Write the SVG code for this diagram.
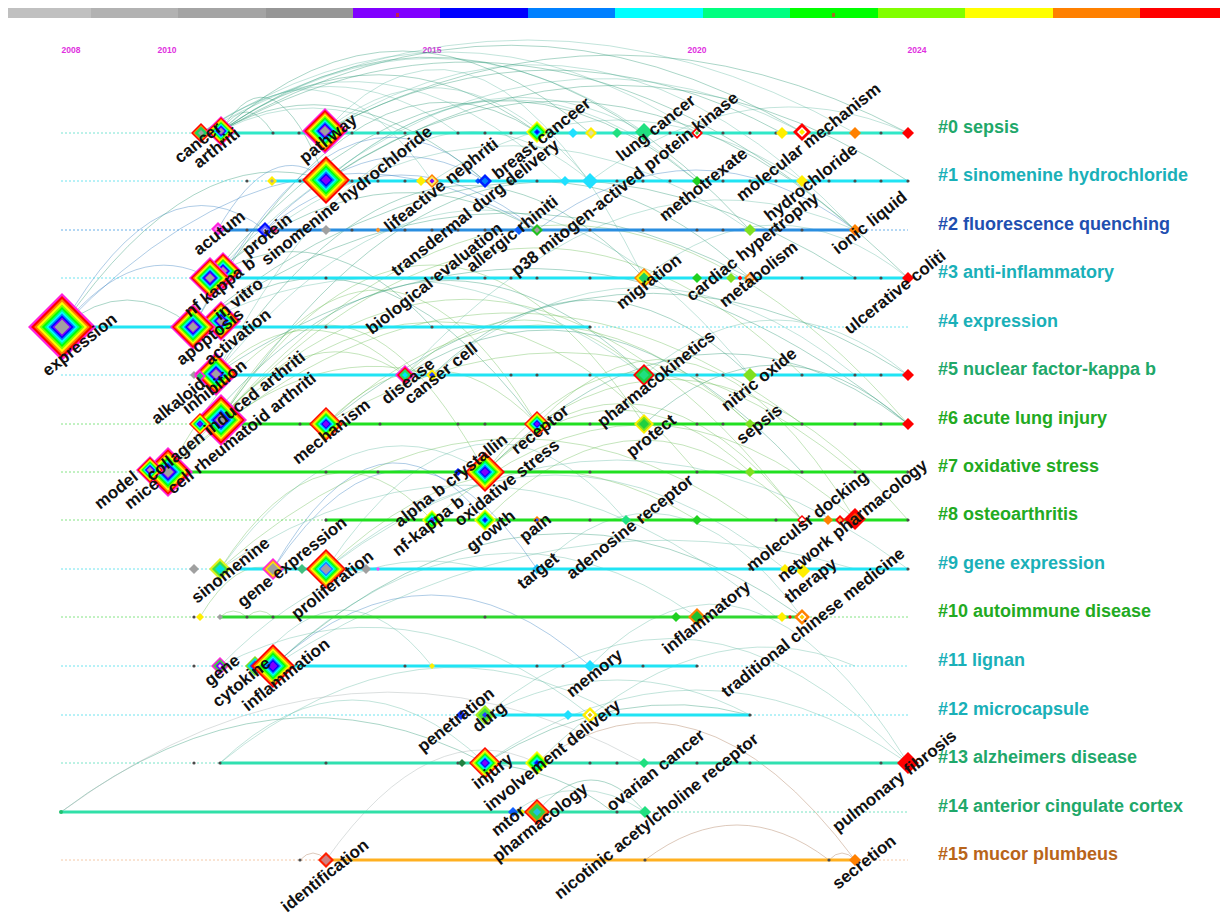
<svg xmlns="http://www.w3.org/2000/svg" width="1227" height="919" viewBox="0 0 1227 919">
<defs>
<style>
.lb{font-family:"Liberation Sans",Arial,sans-serif;font-weight:bold;font-size:17px;fill:#111}
.cl{font-family:"Liberation Sans",Arial,sans-serif;font-weight:bold;font-size:18px}
.yr{font-family:"Liberation Sans",Arial,sans-serif;font-weight:bold;font-size:8.5px;fill:#e030e0;text-anchor:middle}
.dash{stroke-width:1;stroke-dasharray:2 2;fill:none;opacity:.7}
.sol{stroke-width:3;fill:none}
.dot circle{fill:#4a4a4a}
#connectors path{fill:none;stroke-width:.9}
.a1{stroke:#2e9a78;opacity:.45}
.a2{stroke:#5cb8a0;opacity:.42}
.a3{stroke:#3a80c0;opacity:.45}
.a4{stroke:#6cbf5a;opacity:.45}
.a5{stroke:#c09a80;opacity:.6}
.a6{stroke:#b0b8b8;opacity:.5}
</style>
<polygon id="u" points="0,-1 1,0 0,1 -1,0"/>
<g id="rbM">
<use href="#u" fill="#ff22dd"/>
<use href="#u" transform="scale(.91)" fill="#ff0000"/>
<use href="#u" transform="scale(.82)" fill="#ff8000"/>
<use href="#u" transform="scale(.74)" fill="#ffff00"/>
<use href="#u" transform="scale(.66)" fill="#80ff00"/>
<use href="#u" transform="scale(.59)" fill="#00ff00"/>
<use href="#u" transform="scale(.52)" fill="#00ff80"/>
<use href="#u" transform="scale(.46)" fill="#00ffff"/>
<use href="#u" transform="scale(.40)" fill="#0080ff"/>
<use href="#u" transform="scale(.34)" fill="#0000ff"/>
<use href="#u" transform="scale(.28)" fill="#8000ff"/>
<use href="#u" transform="scale(.22)" fill="#a0a0a0"/>
</g>
<g id="rbR">
<use href="#u" fill="#ff0000"/>
<use href="#u" transform="scale(.89)" fill="#ff8000"/>
<use href="#u" transform="scale(.79)" fill="#ffff00"/>
<use href="#u" transform="scale(.69)" fill="#80ff00"/>
<use href="#u" transform="scale(.60)" fill="#00ff00"/>
<use href="#u" transform="scale(.52)" fill="#00ff80"/>
<use href="#u" transform="scale(.44)" fill="#00ffff"/>
<use href="#u" transform="scale(.36)" fill="#0080ff"/>
<use href="#u" transform="scale(.28)" fill="#0000ff"/>
<use href="#u" transform="scale(.20)" fill="#8000ff"/>
</g>
<g id="rbRG">
<use href="#u" fill="#ff0000"/>
<use href="#u" transform="scale(.89)" fill="#ff8000"/>
<use href="#u" transform="scale(.79)" fill="#ffff00"/>
<use href="#u" transform="scale(.69)" fill="#80ff00"/>
<use href="#u" transform="scale(.60)" fill="#00ff00"/>
<use href="#u" transform="scale(.52)" fill="#00ff80"/>
<use href="#u" transform="scale(.44)" fill="#00ffff"/>
<use href="#u" transform="scale(.36)" fill="#0080ff"/>
<use href="#u" transform="scale(.29)" fill="#8080ff"/>
<use href="#u" transform="scale(.24)" fill="#a0a0a0"/>
</g>
<g id="rbY">
<use href="#u" fill="#ffff00"/>
<use href="#u" transform="scale(.84)" fill="#80ff00"/>
<use href="#u" transform="scale(.70)" fill="#00ff00"/>
<use href="#u" transform="scale(.56)" fill="#00ff80"/>
<use href="#u" transform="scale(.44)" fill="#00ffff"/>
<use href="#u" transform="scale(.32)" fill="#0080ff"/>
<use href="#u" transform="scale(.20)" fill="#0000ff"/>
</g>
</defs>
<rect width="1227" height="919" fill="#ffffff"/>

<g id="timebar">
<rect x="8" y="8" width="83" height="10" fill="#c0c0c0"/>
<rect x="91" y="8" width="87" height="10" fill="#b2b2b2"/>
<rect x="178" y="8" width="88" height="10" fill="#a4a4a4"/>
<rect x="266" y="8" width="87" height="10" fill="#969696"/>
<rect x="353" y="8" width="87" height="10" fill="#8000ff"/>
<rect x="440" y="8" width="88" height="10" fill="#0000ff"/>
<rect x="528" y="8" width="87" height="10" fill="#0080ff"/>
<rect x="615" y="8" width="88" height="10" fill="#00ffff"/>
<rect x="703" y="8" width="87" height="10" fill="#00ff80"/>
<rect x="790" y="8" width="88" height="10" fill="#00ff00"/>
<rect x="878" y="8" width="87" height="10" fill="#80ff00"/>
<rect x="965" y="8" width="88" height="10" fill="#ffff00"/>
<rect x="1053" y="8" width="87" height="10" fill="#ff8000"/>
<rect x="1140" y="8" width="80" height="10" fill="#ff0000"/>
<rect x="396" y="13" width="3" height="4" fill="#c02050"/>
<rect x="832" y="13" width="3" height="4" fill="#a07020"/>
</g>

<g id="years">
<text class="yr" x="71" y="53">2008</text>
<text class="yr" x="167" y="53">2010</text>
<text class="yr" x="432" y="53">2015</text>
<text class="yr" x="697" y="53">2020</text>
<text class="yr" x="917" y="53">2024</text>
</g>

<g id="connectors">
<path class="a1" d="M221 131Q511 -41 802 132"/>
<path class="a2" d="M221 131Q432 -15 644 132"/>
<path class="a1" d="M221 131Q379 18 537 132"/>
<path class="a2" d="M221 131Q326 28 432 181"/>
<path class="a1" d="M221 131Q485 -56 750 230"/>
<path class="a2" d="M201 133Q449 -29 697 133"/>
<path class="a2" d="M201 133Q528 -53 855 133"/>
<path class="a1" d="M325 131Q616 -22 908 133"/>
<path class="a2" d="M325 131Q484 -44 644 278"/>
<path class="a1" d="M325 131Q553 8 782 133"/>
<path class="a2" d="M325 131Q457 24 590 181"/>
<path class="a1" d="M221 131Q273 44 326 181"/>
<path class="a1" d="M221 131Q247 92 273 133"/>
<path class="a2" d="M221 131Q313 84 405 133"/>
<path class="a2" d="M326 180Q485 44 644 132"/>
<path class="a1" d="M326 180Q617 -10 908 181"/>
<path class="a2" d="M326 180Q511 19 697 181"/>
<path class="a1" d="M210 278Q453 -19 697 181"/>
<path class="a2" d="M210 278Q506 -25 802 132"/>
<path class="a1" d="M193 327Q365 20 537 132"/>
<path class="a3" d="M62 327Q163 151 265 230"/>
<path class="a1" d="M62 327Q194 136 326 180"/>
<path class="a3" d="M193 327Q339 46 485 181"/>
<path class="a2" d="M215 375Q402 22 590 181"/>
<path class="a1" d="M215 375Q429 53 644 278"/>
<path class="a2" d="M215 375Q482 45 750 375"/>
<path class="a4" d="M220 420Q564 28 908 424"/>
<path class="a4" d="M220 420Q378 158 537 424"/>
<path class="a1" d="M220 420Q485 31 750 278"/>
<path class="a4" d="M220 420Q432 108 644 424"/>
<path class="a4" d="M168 472Q326 178 485 472"/>
<path class="a1" d="M168 472Q406 146 644 375"/>
<path class="a4" d="M168 472Q485 104 802 520"/>
<path class="a4" d="M326 424Q538 226 750 424"/>
<path class="a1" d="M326 424Q617 190 908 375"/>
<path class="a2" d="M405 375Q630 127 855 230"/>
<path class="a1" d="M432 375Q591 225 750 375"/>
<path class="a4" d="M485 472Q643 314 802 520"/>
<path class="a1" d="M485 472Q696 262 908 424"/>
<path class="a4" d="M537 424Q696 258 855 519"/>
<path class="a1" d="M644 424Q776 306 908 424"/>
<path class="a4" d="M432 520Q643 330 855 519"/>
<path class="a4" d="M485 520Q643 360 802 520"/>
<path class="a2" d="M326 569Q476 345 626 520"/>
<path class="a3" d="M273 569Q379 385 485 520"/>
<path class="a4" d="M220 569Q326 405 432 520"/>
<path class="a2" d="M220 569Q352 389 485 472"/>
<path class="a2" d="M326 569Q555 381 785 569"/>
<path class="a2" d="M537 569Q669 437 802 617"/>
<path class="a2" d="M273 666Q485 468 697 617"/>
<path class="a3" d="M273 666Q431 524 590 666"/>
<path class="a2" d="M255 666Q343 554 432 666"/>
<path class="a1" d="M273 666Q537 428 802 617"/>
<path class="a2" d="M220 666Q352 532 485 569"/>
<path class="a1" d="M61 812Q273 652 485 763"/>
<path class="a2" d="M220 763Q352 637 485 763"/>
<path class="a2" d="M485 763Q696 617 908 763"/>
<path class="a2" d="M485 715Q617 645 750 715"/>
<path class="a5" d="M645 860Q737 790 829 860"/>
<path class="a5" d="M300 860Q313 846 326 860"/>
<path class="a5" d="M829 860Q842 846 855 860"/>
<path class="a6" d="M326 860Q431 712 537 763"/>
<path class="a2" d="M513 812Q579 768 645 812"/>
<path class="a1" d="M485 763Q560 770 613 812"/>
<path class="a4" d="M200 617Q236 557 273 569"/>
<path class="a4" d="M220 617Q233 605 247 617"/>
<path class="a4" d="M247 617Q260 605 273 617"/>
<path class="a1" d="M210 278Q321 207 432 327"/>
<path class="a1" d="M193 327Q365 194 537 424"/>
<path class="a2" d="M193 327Q418 209 644 375"/>
<path class="a3" d="M62 327Q136 237 210 278"/>
<path class="a1" d="M62 327Q127 273 193 327"/>
<path class="a4" d="M220 420Q312 312 405 375"/>
<path class="a4" d="M215 375Q310 285 405 375"/>
<path class="a4" d="M168 472Q300 336 432 375"/>
<path class="a4" d="M485 472Q617 348 750 472"/>
<path class="a2" d="M644 375Q776 265 908 375"/>
<path class="a2" d="M644 278Q776 172 908 278"/>
<path class="a3" d="M537 230Q696 110 855 230"/>
<path class="a2" d="M590 181Q749 63 908 133"/>
<path class="a2" d="M432 181Q617 59 802 181"/>
<path class="a3" d="M265 230Q401 120 537 230"/>
<path class="a3" d="M265 230Q375 114 485 181"/>
<path class="a3" d="M218 229Q272 135 326 180"/>
<path class="a2" d="M326 569Q617 351 908 569"/>
<path class="a5" d="M537 763Q696 648 855 860"/>
<path class="a2" d="M590 666Q749 505 908 763"/>
<path class="a2" d="M485 715Q696 541 908 763"/>
<path class="a3" d="M273 569Q405 371 537 569"/>
<path class="a4" d="M220 569Q485 335 750 520"/>
<path class="a1" d="M537 812Q591 748 645 812"/>
<path class="a2" d="M220 666Q405 569 590 715"/>
<path class="a4" d="M326 424Q431 316 537 424"/>
<path class="a4" d="M405 375Q524 265 644 375"/>
<path class="a1" d="M210 278Q373 136 537 230"/>
<path class="a1" d="M193 327Q471 127 750 278"/>
<path class="a1" d="M221 131Q400 -30 590 133"/>
<path class="a2" d="M201 133Q380 10 563 181"/>
<path class="a2" d="M325 131Q600 -40 855 230"/>
<path class="a1" d="M221 131Q560 -60 908 278"/>
<path class="a1" d="M326 180Q590 0 855 230"/>
<path class="a2" d="M210 278Q480 40 750 230"/>
<path class="a1" d="M193 327Q520 60 855 278"/>
<path class="a3" d="M62 327Q300 80 537 230"/>
<path class="a4" d="M220 420Q520 100 802 375"/>
<path class="a1" d="M215 375Q560 140 908 424"/>
<path class="a4" d="M168 472Q480 180 802 424"/>
<path class="a4" d="M220 420Q470 200 697 472"/>
<path class="a4" d="M326 424Q600 260 855 472"/>
<path class="a2" d="M432 375Q640 200 855 375"/>
<path class="a4" d="M537 424Q720 300 908 520"/>
<path class="a1" d="M405 375Q600 250 802 472"/>
<path class="a4" d="M485 472Q620 300 750 424"/>
<path class="a4" d="M326 569Q500 400 697 520"/>
<path class="a2" d="M220 569Q500 380 776 617"/>
<path class="a2" d="M273 666Q560 480 855 569"/>
<path class="a2" d="M220 763Q420 600 617 715"/>
<path class="a6" d="M61 812Q350 600 644 763"/>
<path class="a2" d="M537 763Q700 600 855 666"/>
<path class="a1" d="M485 763Q620 680 750 715"/>
<path class="a1" d="M221 131Q340 60 485 181"/>
<path class="a2" d="M201 133Q330 40 458 133"/>
</g>

<g id="rows">
<path class="dash" stroke="#40d8c0" d="M61 133H203"/><path class="sol" stroke="#30e8c8" d="M203 133H908"/>
<path class="dash" stroke="#30d8e8" d="M61 181H272"/><path class="sol" stroke="#20e4f4" d="M272 181H908"/>
<path class="dash" stroke="#2a8ee0" d="M61 230H218M855 230H908"/><path class="sol" stroke="#2a8ee0" d="M218 230H855"/>
<path class="dash" stroke="#30d8e8" d="M61 278H192"/><path class="sol" stroke="#20e4f4" d="M192 278H908"/>
<path class="dash" stroke="#30d8e8" d="M590 327H908"/><path class="sol" stroke="#20e4f4" d="M62 327H590"/>
<path class="dash" stroke="#30d8e8" d="M61 375H215"/><path class="sol" stroke="#20e4f4" d="M215 375H908"/>
<path class="dash" stroke="#50d850" d="M61 424H200"/><path class="sol" stroke="#20e020" d="M200 424H908"/>
<path class="dash" stroke="#50d850" d="M61 472H165"/><path class="sol" stroke="#20e020" d="M165 472H908"/>
<path class="dash" stroke="#50d850" d="M61 520H325"/><path class="sol" stroke="#20e020" d="M325 520H908"/>
<path class="dash" stroke="#30d8e8" d="M61 569H240"/><path class="sol" stroke="#20e4f4" d="M240 569H908"/>
<path class="dash" stroke="#50d850" d="M61 617H220M802 617H908"/><path class="sol" stroke="#30d830" d="M220 617H802"/>
<path class="dash" stroke="#30d8e8" d="M61 666H273M697 666H908"/><path class="sol" stroke="#20e4f4" d="M273 666H697"/>
<path class="dash" stroke="#30d8e8" d="M61 715H485M750 715H908"/><path class="sol" stroke="#20e4f4" d="M485 715H750"/>
<path class="dash" stroke="#40d8b0" d="M61 763H220"/><path class="sol" stroke="#30e0b0" d="M220 763H908"/>
<path class="dash" stroke="#40d8a8" d="M645 812H908"/><path class="sol" stroke="#30e0a8" d="M61 812H645"/>
<path class="dash" stroke="#f0b080" d="M61 860H326M855 860H908"/><path class="sol" stroke="#ffb020" d="M326 860H855"/>
</g>

<g id="dots" class="dot">
<circle cx="273" cy="133" r="1.6"/><circle cx="299" cy="133" r="1.6"/><circle cx="352" cy="133" r="1.6"/><circle cx="378" cy="133" r="1.6"/><circle cx="405" cy="133" r="1.6"/><circle cx="458" cy="133" r="1.6"/><circle cx="485" cy="133" r="1.6"/><circle cx="511" cy="133" r="1.6"/><circle cx="670" cy="133" r="1.6"/><circle cx="723" cy="133" r="1.6"/><circle cx="750" cy="133" r="1.6"/><circle cx="776" cy="133" r="1.6"/><circle cx="829" cy="133" r="1.6"/><circle cx="881" cy="133" r="1.6"/>
<circle cx="247" cy="181" r="1.6"/><circle cx="300" cy="181" r="1.6"/><circle cx="352" cy="181" r="1.6"/><circle cx="378" cy="181" r="1.6"/><circle cx="405" cy="181" r="1.6"/><circle cx="458" cy="181" r="1.6"/><circle cx="511" cy="181" r="1.6"/><circle cx="537" cy="181" r="1.6"/><circle cx="617" cy="181" r="1.6"/><circle cx="643" cy="181" r="1.6"/><circle cx="670" cy="181" r="1.6"/><circle cx="723" cy="181" r="1.6"/><circle cx="750" cy="181" r="1.6"/><circle cx="776" cy="181" r="1.6"/><circle cx="829" cy="181" r="1.6"/><circle cx="855" cy="181" r="1.6"/><circle cx="881" cy="181" r="1.6"/><circle cx="908" cy="181" r="1.6"/>
<circle cx="247" cy="230" r="1.6"/><circle cx="300" cy="230" r="1.6"/><circle cx="352" cy="230" r="1.6"/><circle cx="405" cy="230" r="1.6"/><circle cx="432" cy="230" r="1.6"/><circle cx="458" cy="230" r="1.6"/><circle cx="485" cy="230" r="1.6"/><circle cx="563" cy="230" r="1.6"/><circle cx="590" cy="230" r="1.6"/><circle cx="643" cy="230" r="1.6"/><circle cx="697" cy="230" r="1.6"/><circle cx="723" cy="230" r="1.6"/><circle cx="776" cy="230" r="1.6"/><circle cx="802" cy="230" r="1.6"/>
<circle cx="326" cy="278" r="1.6"/><circle cx="432" cy="278" r="1.6"/><circle cx="458" cy="278" r="1.6"/><circle cx="485" cy="278" r="1.6"/><circle cx="511" cy="278" r="1.6"/><circle cx="537" cy="278" r="1.6"/><circle cx="590" cy="278" r="1.6"/><circle cx="802" cy="278" r="1.6"/><circle cx="855" cy="278" r="1.6"/><circle cx="881" cy="278" r="1.6"/>
<circle cx="326" cy="327" r="1.6"/><circle cx="432" cy="327" r="1.6"/><circle cx="590" cy="327" r="1.6"/>
<circle cx="511" cy="375" r="1.6"/><circle cx="537" cy="375" r="1.6"/><circle cx="590" cy="375" r="1.6"/><circle cx="697" cy="375" r="1.6"/><circle cx="723" cy="375" r="1.6"/><circle cx="802" cy="375" r="1.6"/><circle cx="855" cy="375" r="1.6"/><circle cx="881" cy="375" r="1.6"/>
<circle cx="300" cy="424" r="1.6"/><circle cx="380" cy="424" r="1.6"/><circle cx="458" cy="424" r="1.6"/><circle cx="485" cy="424" r="1.6"/><circle cx="590" cy="424" r="1.6"/><circle cx="697" cy="424" r="1.6"/><circle cx="723" cy="424" r="1.6"/><circle cx="802" cy="424" r="1.6"/><circle cx="855" cy="424" r="1.6"/><circle cx="881" cy="424" r="1.6"/>
<circle cx="326" cy="472" r="1.6"/><circle cx="378" cy="472" r="1.6"/><circle cx="590" cy="472" r="1.6"/><circle cx="697" cy="472" r="1.6"/><circle cx="802" cy="472" r="1.6"/><circle cx="855" cy="472" r="1.6"/><circle cx="908" cy="472" r="1.6"/>
<circle cx="326" cy="520" r="1.6"/><circle cx="590" cy="520" r="1.6"/><circle cx="776" cy="520" r="1.6"/><circle cx="908" cy="520" r="1.6"/>
<circle cx="750" cy="569" r="1.6"/><circle cx="908" cy="569" r="1.6"/>
<circle cx="194" cy="617" r="1.6"/><circle cx="247" cy="617" r="1.6"/><circle cx="273" cy="617" r="1.6"/><circle cx="485" cy="617" r="1.6"/><circle cx="802" cy="617" r="1.6"/>
<circle cx="194" cy="666" r="1.6"/><circle cx="405" cy="666" r="1.6"/><circle cx="537" cy="666" r="1.6"/><circle cx="563" cy="666" r="1.6"/><circle cx="643" cy="666" r="1.6"/><circle cx="697" cy="666" r="1.6"/>
<circle cx="750" cy="715" r="1.6"/>
<circle cx="194" cy="763" r="1.6"/><circle cx="220" cy="763" r="1.6"/><circle cx="326" cy="763" r="1.6"/><circle cx="458" cy="763" r="1.6"/><circle cx="590" cy="763" r="1.6"/><circle cx="617" cy="763" r="1.6"/><circle cx="697" cy="763" r="1.6"/><circle cx="750" cy="763" r="1.6"/><circle cx="881" cy="763" r="1.6"/>
<circle cx="617" cy="812" r="1.6"/>
<circle cx="300" cy="860" r="1.6"/><circle cx="645" cy="860" r="1.6"/><circle cx="829" cy="860" r="1.6"/>
</g>

<g id="minor-nodes">
<use href="#u" transform="translate(573 133) scale(5)" fill="#20e0ff"/>
<use href="#u" transform="translate(591 133) scale(6)" fill="#ffee00"/><use href="#u" transform="translate(591 133) scale(3)" fill="#e0e0a0"/>
<use href="#u" transform="translate(617 133) scale(5)" fill="#20e080"/>
<use href="#u" transform="translate(782 133) scale(6)" fill="#ffee00"/>
<use href="#u" transform="translate(855 133) scale(6)" fill="#ff8000"/>
<use href="#u" transform="translate(908 133) scale(6)" fill="#ff0000"/>
<use href="#u" transform="translate(272 181) scale(5)" fill="#ffee00"/><use href="#u" transform="translate(272 181) scale(2)" fill="#a0a0a0"/>
<use href="#u" transform="translate(421 181) scale(5)" fill="#ffee00"/>
<use href="#u" transform="translate(478 181) scale(3)" fill="#0050ff"/>
<use href="#u" transform="translate(565 181) scale(5)" fill="#20e0ff"/>
<use href="#u" transform="translate(590 181) scale(8)" fill="#20e0ff"/>
<use href="#u" transform="translate(274 230) scale(4)" fill="#ff3080"/>
<use href="#u" transform="translate(326 230) scale(5)" fill="#a0a0a0"/>
<use href="#u" transform="translate(378 230) scale(2.5)" fill="#ff9020"/>
<use href="#u" transform="translate(519 230) scale(5)" fill="#1060ff"/>
<use href="#u" transform="translate(697 278) scale(5)" fill="#20d020"/>
<use href="#u" transform="translate(731 278) scale(5)" fill="#80e020"/>
<use href="#u" transform="translate(740 278) scale(2.5)" fill="#ff0000"/>
<use href="#u" transform="translate(908 375) scale(6)" fill="#ff0000"/>
<use href="#u" transform="translate(194 375) scale(4)" fill="#a0a0a0"/>
<use href="#u" transform="translate(908 424) scale(6)" fill="#ff0000"/>
<use href="#u" transform="translate(750 472) scale(5)" fill="#80e020"/>
<use href="#u" transform="translate(643 520) scale(2)" fill="#ff8000"/>
<use href="#u" transform="translate(697 520) scale(5)" fill="#20d020"/>
<use href="#u" transform="translate(828 520) scale(5)" fill="#ff8000"/>
<use href="#u" transform="translate(840 520) scale(5)" fill="#ff0000"/><use href="#u" transform="translate(840 520) scale(2.5)" fill="#ffa040"/>
<use href="#u" transform="translate(194 569) scale(5)" fill="#a0a0a0"/>
<use href="#u" transform="translate(302 569) scale(5)" fill="#40c080"/>
<use href="#u" transform="translate(366 569) scale(5)" fill="#a0a0a0"/>
<use href="#u" transform="translate(378 569) scale(2)" fill="#ff40ff"/>
<use href="#u" transform="translate(785 569) scale(5)" fill="#ffee00"/>
<use href="#u" transform="translate(200 617) scale(4)" fill="#ffee00"/>
<use href="#u" transform="translate(220 617) scale(3)" fill="#a0a0a0"/>
<use href="#u" transform="translate(676 617) scale(5)" fill="#20d020"/>
<use href="#u" transform="translate(782 617) scale(5)" fill="#ffee00"/>
<use href="#u" transform="translate(790 617) scale(2)" fill="#ff0000"/>
<use href="#u" transform="translate(432 666) scale(3)" fill="#ffee00"/>
<use href="#u" transform="translate(568 715) scale(5)" fill="#20e0ff"/>
<use href="#u" transform="translate(590 715) scale(8)" fill="#ffee00"/><use href="#u" transform="translate(590 715) scale(4.5)" fill="#ffffff"/><use href="#u" transform="translate(590 715) scale(2.5)" fill="#e0c000"/>
<use href="#u" transform="translate(462 763) scale(4)" fill="#208040"/>
<use href="#u" transform="translate(522 812) scale(3)" fill="#ffee00"/>
<circle cx="61" cy="812" r="2" fill="#20c070"/>
</g>

<g id="n-cancer"><use href="#u" transform="translate(201 133) scale(10)" fill="#ff0000"/><use href="#u" transform="translate(201 133) scale(8)" fill="#ff8000"/><use href="#u" transform="translate(201 133) scale(6.5)" fill="#20d060"/><use href="#u" transform="translate(201 133) scale(3)" fill="#a0a0a0"/></g>
<g id="n-arthriti"><use href="#rbM" transform="translate(221 131) scale(15)"/></g>
<g id="n-pathway"><use href="#rbM" transform="translate(325 131) scale(23)"/></g>
<g id="n-breast"><use href="#rbY" transform="translate(537 132) scale(11)"/></g>
<g id="n-lung"><use href="#u" transform="translate(644 132) scale(9)" fill="#20e080"/></g>
<g id="n-p38"><use href="#u" transform="translate(697 133) scale(6)" fill="#ff0000"/><use href="#u" transform="translate(697 133) scale(3.5)" fill="#ffffff"/><use href="#u" transform="translate(697 133) scale(2)" fill="#40c040"/></g>
<g id="n-molmech"><use href="#u" transform="translate(802 132) scale(9)" fill="#ff0000"/><use href="#u" transform="translate(802 132) scale(5)" fill="#ffffff"/><use href="#u" transform="translate(802 132) scale(3)" fill="#ffee00"/></g>
<g id="n-sinohcl"><use href="#rbR" transform="translate(326 180) scale(24)"/></g>
<g id="n-lifeactive"><use href="#u" transform="translate(432 181) scale(7)" fill="#ff8000"/><use href="#u" transform="translate(432 181) scale(5)" fill="#ffee60"/><use href="#u" transform="translate(432 181) scale(2.5)" fill="#8000ff"/></g>
<g id="n-transdermal"><use href="#u" transform="translate(485 181) scale(7)" fill="#0020ff"/><use href="#u" transform="translate(485 181) scale(3.5)" fill="#0080ff"/></g>
<g id="n-methotrexate"><use href="#u" transform="translate(697 181) scale(5)" fill="#20d020"/></g>
<g id="n-hydrochloride"><use href="#u" transform="translate(802 181) scale(6)" fill="#ffee00"/></g>
<g id="n-acutum"><use href="#u" transform="translate(218 229) scale(7)" fill="#ff22dd"/><use href="#u" transform="translate(218 229) scale(4)" fill="#ff80ff"/></g>
<g id="n-protein"><use href="#u" transform="translate(265 230) scale(8)" fill="#0010ff"/><use href="#u" transform="translate(265 230) scale(5)" fill="#6060ff"/><use href="#u" transform="translate(265 230) scale(2.5)" fill="#c0c0ff"/></g>
<g id="n-allergic"><use href="#u" transform="translate(537 230) scale(6)" fill="#20c020"/><use href="#u" transform="translate(537 230) scale(3)" fill="#a0a0a0"/></g>
<g id="n-cardiac"><use href="#u" transform="translate(750 230) scale(6)" fill="#80e020"/></g>
<g id="n-ionic"><use href="#u" transform="translate(855 230) scale(6)" fill="#ff8000"/></g>
<g id="n-invitro"><use href="#rbM" transform="translate(223 271) scale(19)"/></g>
<g id="n-nfkb"><use href="#rbM" transform="translate(210 278) scale(21)"/></g>
<g id="n-migration"><use href="#u" transform="translate(644 278) scale(10)" fill="#ff8000"/><use href="#u" transform="translate(644 278) scale(8)" fill="#ffee00"/><use href="#u" transform="translate(644 278) scale(5.5)" fill="#20d060"/></g>
<g id="n-metabolism"><use href="#u" transform="translate(750 278) scale(6)" fill="#ff8000"/><use href="#u" transform="translate(750 278) scale(3.5)" fill="#ffd0a0"/></g>
<g id="n-ulcerative"><use href="#u" transform="translate(908 278) scale(6)" fill="#ff0000"/></g>
<g id="n-expression"><use href="#rbM" transform="translate(62 327) scale(34)"/></g>
<g id="n-activation"><use href="#rbM" transform="translate(221 321) scale(20)"/></g>
<g id="n-apoptosis"><use href="#rbM" transform="translate(193 327) scale(23)"/></g>
<g id="n-inhibition"><use href="#rbM" transform="translate(216 374) scale(22)"/></g>
<g id="n-alkaloid"><use href="#u" transform="translate(200 376) scale(6)" fill="#ff22dd"/><use href="#u" transform="translate(200 376) scale(3.5)" fill="#20d060"/></g>
<g id="n-disease"><use href="#u" transform="translate(405 375) scale(10)" fill="#ff22dd"/><use href="#u" transform="translate(405 375) scale(8)" fill="#ff0000"/><use href="#u" transform="translate(405 375) scale(6)" fill="#20e060"/><use href="#u" transform="translate(405 375) scale(3)" fill="#00e0ff"/></g>
<g id="n-canser"><use href="#u" transform="translate(432 375) scale(6)" fill="#ffee00"/><use href="#u" transform="translate(432 375) scale(3)" fill="#2040ff"/></g>
<g id="n-pharmacokinetics"><use href="#u" transform="translate(644 375) scale(11)" fill="#ff0000"/><use href="#u" transform="translate(644 375) scale(8.5)" fill="#20d040"/><use href="#u" transform="translate(644 375) scale(5)" fill="#20e080"/></g>
<g id="n-nitric"><use href="#u" transform="translate(750 375) scale(7)" fill="#80e020"/></g>
<g id="n-collagen"><use href="#rbM" transform="translate(221 420) scale(26)"/></g>
<g id="n-cellra"><use href="#rbR" transform="translate(200 424) scale(11)"/></g>
<g id="n-mechanism"><use href="#rbR" transform="translate(326 424) scale(17)"/></g>
<g id="n-receptor"><use href="#rbR" transform="translate(537 424) scale(13)"/></g>
<g id="n-protect"><use href="#u" transform="translate(644 424) scale(10)" fill="#ffee00"/><use href="#u" transform="translate(644 424) scale(7.5)" fill="#80e020"/><use href="#u" transform="translate(644 424) scale(5)" fill="#20d040"/></g>
<g id="n-sepsis"><use href="#u" transform="translate(750 424) scale(5)" fill="#80e020"/></g>
<g id="n-mice"><use href="#rbM" transform="translate(168 472) scale(25)"/></g>
<g id="n-model"><use href="#rbM" transform="translate(150 470) scale(14)"/></g>
<g id="n-crystallin"><use href="#u" transform="translate(458 472) scale(4)" fill="#0020ff"/></g>
<g id="n-oxstress"><use href="#rbR" transform="translate(485 472) scale(20)"/></g>
<g id="n-nfkappab"><use href="#rbY" transform="translate(432 520) scale(10)"/><use href="#u" transform="translate(432 520) scale(2)" fill="#8000ff"/></g>
<g id="n-growth"><use href="#rbY" transform="translate(485 520) scale(11)"/></g>
<g id="n-pain"><use href="#u" transform="translate(537 520) scale(4)" fill="#ff8000"/><use href="#u" transform="translate(537 520) scale(2)" fill="#2060ff"/></g>
<g id="n-adenosine"><use href="#u" transform="translate(626 520) scale(5)" fill="#20e080"/></g>
<g id="n-docking"><use href="#u" transform="translate(802 520) scale(5)" fill="#ff0000"/><use href="#u" transform="translate(802 520) scale(3)" fill="#ffffff"/></g>
<g id="n-network"><use href="#u" transform="translate(855 519) scale(11)" fill="#ff0000"/><use href="#u" transform="translate(855 519) scale(6)" fill="#ff5000"/></g>
<g id="n-sinomenine"><use href="#u" transform="translate(220 569) scale(11)" fill="#e0f020"/><use href="#u" transform="translate(220 569) scale(8)" fill="#40e040"/><use href="#u" transform="translate(220 569) scale(5)" fill="#00e0e0"/></g>
<g id="n-geneexp"><use href="#u" transform="translate(273 569) scale(11)" fill="#ff22dd"/><use href="#u" transform="translate(273 569) scale(9)" fill="#ff9030"/><use href="#u" transform="translate(273 569) scale(7.5)" fill="#ffee00"/><use href="#u" transform="translate(273 569) scale(6)" fill="#a0a0a0"/></g>
<g id="n-proliferation"><use href="#rbRG" transform="translate(326 569) scale(20)"/></g>
<g id="n-target"><use href="#u" transform="translate(537 569) scale(5)" fill="#20c0ff"/></g>
<g id="n-therapy"><use href="#u" transform="translate(803 571) scale(7)" fill="#ffee00"/></g>
<g id="n-inflammatory"><use href="#u" transform="translate(697 617) scale(9)" fill="#ff8000"/><use href="#u" transform="translate(697 617) scale(6)" fill="#20c030"/></g>
<g id="n-tcm"><use href="#u" transform="translate(802 617) scale(8)" fill="#ff8000"/><use href="#u" transform="translate(802 617) scale(4.5)" fill="#ffffff"/><use href="#u" transform="translate(802 617) scale(2.5)" fill="#ffcc00"/></g>
<g id="n-gene"><use href="#u" transform="translate(220 666) scale(9)" fill="#ff22dd"/><use href="#u" transform="translate(220 666) scale(7)" fill="#40d040"/><use href="#u" transform="translate(220 666) scale(4.5)" fill="#8000ff"/><use href="#u" transform="translate(220 666) scale(2)" fill="#e0e0e0"/></g>
<g id="n-cytokine"><use href="#u" transform="translate(255 666) scale(10)" fill="#80e020"/><use href="#u" transform="translate(255 666) scale(8)" fill="#00e0e0"/><use href="#u" transform="translate(255 666) scale(5.5)" fill="#2040ff"/><use href="#u" transform="translate(255 666) scale(3)" fill="#ff40c0"/></g>
<g id="n-inflammation"><use href="#rbR" transform="translate(273 666) scale(22)"/></g>
<g id="n-memory"><use href="#u" transform="translate(590 666) scale(6)" fill="#20e0ff"/></g>
<g id="n-penetration"><use href="#u" transform="translate(461 715) scale(5)" fill="#1030ff"/></g>
<g id="n-durg"><use href="#u" transform="translate(485 715) scale(10)" fill="#a0f020"/><use href="#u" transform="translate(485 715) scale(7)" fill="#40e040"/><use href="#u" transform="translate(485 715) scale(3)" fill="#2040ff"/></g>
<g id="n-injury"><use href="#rbR" transform="translate(485 763) scale(16)"/></g>
<g id="n-involvement"><use href="#rbY" transform="translate(537 763) scale(12)"/></g>
<g id="n-ovarian"><use href="#u" transform="translate(644 763) scale(5)" fill="#20e080"/></g>
<g id="n-pulmonary"><use href="#u" transform="translate(908 763) scale(11)" fill="#ff0000"/></g>
<g id="n-mtor"><use href="#u" transform="translate(513 812) scale(5)" fill="#1060ff"/></g>
<g id="n-pharmacology"><use href="#u" transform="translate(537 812) scale(13)" fill="#ff0000"/><use href="#u" transform="translate(537 812) scale(11)" fill="#ff8000"/><use href="#u" transform="translate(537 812) scale(8.5)" fill="#30d040"/><use href="#u" transform="translate(537 812) scale(4)" fill="#20c0e0"/></g>
<g id="n-nicotinic"><use href="#u" transform="translate(645 812) scale(6)" fill="#20e080"/></g>
<g id="n-identification"><use href="#u" transform="translate(326 860) scale(8)" fill="#ff2000"/><use href="#u" transform="translate(326 860) scale(5)" fill="#d08080"/></g>
<g id="n-secretion"><use href="#u" transform="translate(855 860) scale(6)" fill="#ff8000"/></g>

<g id="labels">
<text class="lb" transform="translate(180 164) rotate(-38.5)">cancer</text>
<text class="lb" transform="translate(199 169) rotate(-38.5)">arthriti</text>
<text class="lb" transform="translate(305 164) rotate(-38.5)">pathway</text>
<text class="lb" transform="translate(498 180) rotate(-38.5)">breast canceer</text>
<text class="lb" transform="translate(622 162) rotate(-38.5)">lung cancer</text>
<text class="lb" transform="translate(517 277) rotate(-38.5)">p38 mitogen-actived protein kinase</text>
<text class="lb" transform="translate(742 202) rotate(-38.5)">molecular mechanism</text>
<text class="lb" transform="translate(267 266) rotate(-38.5)">sinomenine hydrochloride</text>
<text class="lb" transform="translate(390 233) rotate(-38.5)">lifeactive nephriti</text>
<text class="lb" transform="translate(397 277) rotate(-38.5)">transdermal durg delivery</text>
<text class="lb" transform="translate(665 222) rotate(-38.5)">methotrexate</text>
<text class="lb" transform="translate(770 222) rotate(-38.5)">hydrochloride</text>
<text class="lb" transform="translate(199 256) rotate(-38.5)">acutum</text>
<text class="lb" transform="translate(248 257) rotate(-38.5)">protein</text>
<text class="lb" transform="translate(472 273) rotate(-38.5)">allergic rhiniti</text>
<text class="lb" transform="translate(692 302) rotate(-38.5)">cardiac hypertrophy</text>
<text class="lb" transform="translate(838 255) rotate(-38.5)">ionic liquid</text>
<text class="lb" transform="translate(372 335) rotate(-38.5)">biological evaluation</text>
<text class="lb" transform="translate(220 321) rotate(-38.5)">in vitro</text>
<text class="lb" transform="translate(190 318) rotate(-38.5)">nf kappa b</text>
<text class="lb" transform="translate(622 310) rotate(-38.5)">migration</text>
<text class="lb" transform="translate(725 308) rotate(-38.5)">metabolism</text>
<text class="lb" transform="translate(850 335) rotate(-38.5)">ulcerative coliti</text>
<text class="lb" transform="translate(48 377) rotate(-38.5)">expression</text>
<text class="lb" transform="translate(210 366) rotate(-38.5)">activation</text>
<text class="lb" transform="translate(182 366) rotate(-38.5)">apoptosis</text>
<text class="lb" transform="translate(188 415) rotate(-38.5)">inhibition</text>
<text class="lb" transform="translate(157 425) rotate(-38.5)">alkaloid</text>
<text class="lb" transform="translate(387 405) rotate(-38.5)">disease</text>
<text class="lb" transform="translate(410 405) rotate(-38.5)">canser cell</text>
<text class="lb" transform="translate(603 428) rotate(-38.5)">pharmacokinetics</text>
<text class="lb" transform="translate(727 412) rotate(-38.5)">nitric oxide</text>
<text class="lb" transform="translate(152 482) rotate(-38.5)">collagen induced arthriti</text>
<text class="lb" transform="translate(173 495) rotate(-38.5)">cell rheumatoid arthriti</text>
<text class="lb" transform="translate(298 465) rotate(-38.5)">mechanism</text>
<text class="lb" transform="translate(517 455) rotate(-38.5)">receptor</text>
<text class="lb" transform="translate(632 458) rotate(-38.5)">protect</text>
<text class="lb" transform="translate(742 445) rotate(-38.5)">sepsis</text>
<text class="lb" transform="translate(130 510) rotate(-38.5)">mice</text>
<text class="lb" transform="translate(100 510) rotate(-38.5)">model</text>
<text class="lb" transform="translate(400 528) rotate(-38.5)">alpha b crystallin</text>
<text class="lb" transform="translate(460 527) rotate(-38.5)">oxidative stress</text>
<text class="lb" transform="translate(398 557) rotate(-38.5)">nf-kappa b</text>
<text class="lb" transform="translate(472 553) rotate(-38.5)">growth</text>
<text class="lb" transform="translate(525 543) rotate(-38.5)">pain</text>
<text class="lb" transform="translate(572 580) rotate(-38.5)">adenosine receptor</text>
<text class="lb" transform="translate(752 572) rotate(-38.5)">moleculsr docking</text>
<text class="lb" transform="translate(783 583) rotate(-38.5)">network pharmacology</text>
<text class="lb" transform="translate(197 604) rotate(-38.5)">sinomenine</text>
<text class="lb" transform="translate(243 608) rotate(-38.5)">gene expression</text>
<text class="lb" transform="translate(297 620) rotate(-38.5)">proliferation</text>
<text class="lb" transform="translate(523 590) rotate(-38.5)">target</text>
<text class="lb" transform="translate(790 604) rotate(-38.5)">therapy</text>
<text class="lb" transform="translate(668 655) rotate(-38.5)">inflammatory</text>
<text class="lb" transform="translate(727 698) rotate(-38.5)">traditional chinese medicine</text>
<text class="lb" transform="translate(210 687) rotate(-38.5)">gene</text>
<text class="lb" transform="translate(218 708) rotate(-38.5)">cytokine</text>
<text class="lb" transform="translate(248 712) rotate(-38.5)">inflammation</text>
<text class="lb" transform="translate(572 698) rotate(-38.5)">memory</text>
<text class="lb" transform="translate(423 753) rotate(-38.5)">penetration</text>
<text class="lb" transform="translate(478 733) rotate(-38.5)">durg</text>
<text class="lb" transform="translate(478 790) rotate(-38.5)">injury</text>
<text class="lb" transform="translate(490 812) rotate(-38.5)">involvement delivery</text>
<text class="lb" transform="translate(612 812) rotate(-38.5)">ovarian cancer</text>
<text class="lb" transform="translate(838 833) rotate(-38.5)">pulmonary fibrosis</text>
<text class="lb" transform="translate(497 837) rotate(-38.5)">mtor</text>
<text class="lb" transform="translate(498 863) rotate(-38.5)">pharmacology</text>
<text class="lb" transform="translate(560 900) rotate(-38.5)">nicotinic acetylcholine receptor</text>
<text class="lb" transform="translate(287 913) rotate(-38.5)">identification</text>
<text class="lb" transform="translate(838 890) rotate(-38.5)">secretion</text>
</g>

<g id="clusters">
<text class="cl" x="938" y="133" fill="#1fa86a">#0 sepsis</text>
<text class="cl" x="938" y="181" fill="#1ab0b8">#1 sinomenine hydrochloride</text>
<text class="cl" x="938" y="230" fill="#1f4fb0">#2 fluorescence quenching</text>
<text class="cl" x="938" y="278" fill="#1ab0b8">#3 anti-inflammatory</text>
<text class="cl" x="938" y="327" fill="#1ab0b8">#4 expression</text>
<text class="cl" x="938" y="375" fill="#1fa86a">#5 nuclear factor-kappa b</text>
<text class="cl" x="938" y="424" fill="#22aa22">#6 acute lung injury</text>
<text class="cl" x="938" y="472" fill="#22aa22">#7 oxidative stress</text>
<text class="cl" x="938" y="520" fill="#22aa22">#8 osteoarthritis</text>
<text class="cl" x="938" y="569" fill="#1ab0b8">#9 gene expression</text>
<text class="cl" x="938" y="617" fill="#22aa22">#10 autoimmune disease</text>
<text class="cl" x="938" y="666" fill="#1ab0b8">#11 lignan</text>
<text class="cl" x="938" y="715" fill="#1ab0b8">#12 microcapsule</text>
<text class="cl" x="938" y="763" fill="#1fa86a">#13 alzheimers disease</text>
<text class="cl" x="938" y="812" fill="#1fa86a">#14 anterior cingulate cortex</text>
<text class="cl" x="938" y="860" fill="#b8641a">#15 mucor plumbeus</text>
</g>
</svg>
